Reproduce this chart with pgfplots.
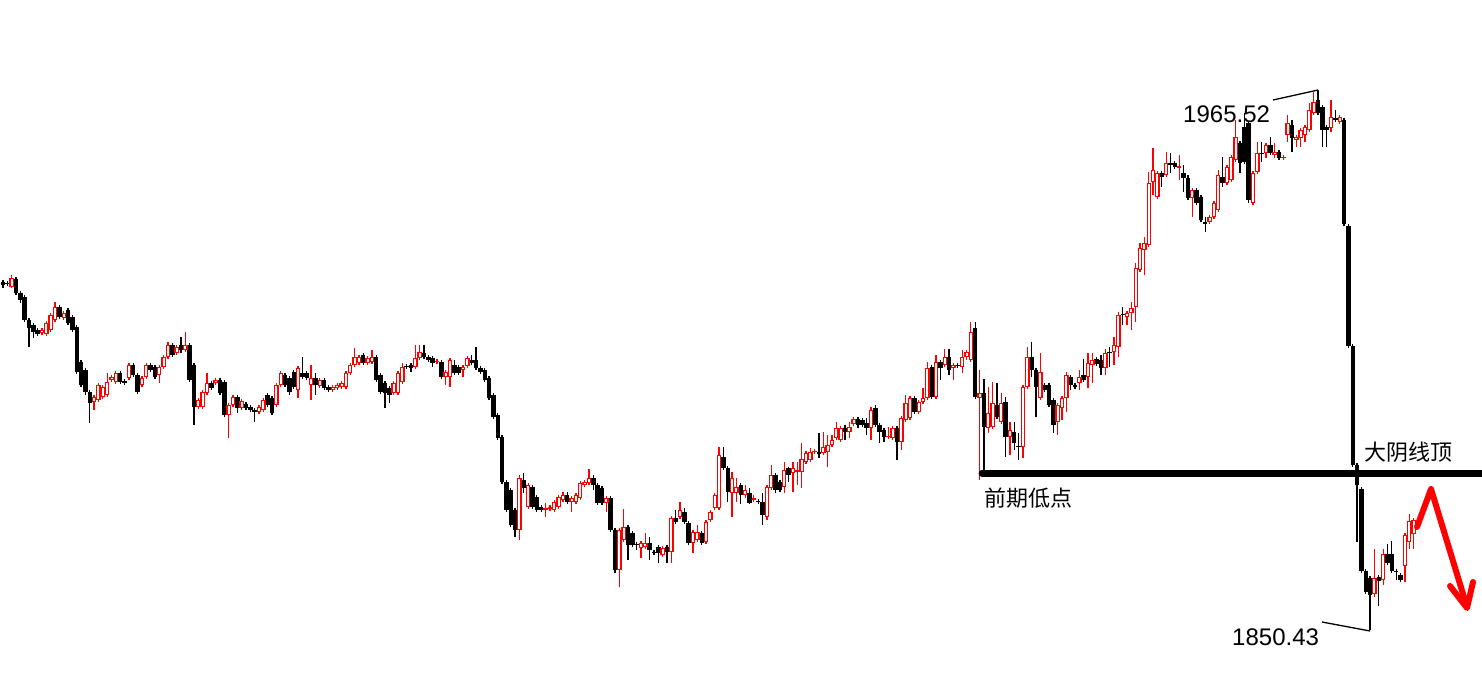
\documentclass[border=0pt]{standalone}
\usepackage{pgfplots}
\usepackage{pgfplotstable}
\usepackage{fontspec}
\pgfplotsset{compat=1.18}
\setmainfont{Liberation Sans}
\newfontfamily\cjk{Noto Sans CJK SC}

% bearish (black, filled) candles: index open high low close
\pgfplotstableread{
x o h l c
0 1924.6 1925.0 1923.3 1924.0
1 1924.4 1924.8 1923.8 1924.2
3 1925.2 1925.7 1921.8 1922.3
4 1922.3 1922.7 1920.1 1920.8
5 1921.4 1921.8 1916.1 1916.5
6 1916.5 1916.9 1910.8 1914.8
7 1915.4 1915.9 1912.7 1914.0
8 1914.4 1914.8 1913.1 1913.5
13 1919.3 1919.7 1916.7 1917.1
15 1918.6 1919.1 1915.4 1915.9
16 1917.1 1917.6 1914.0 1914.4
17 1915.0 1915.4 1905.0 1905.4
18 1907.6 1908.0 1902.2 1902.7
19 1905.9 1906.3 1900.5 1901.2
20 1901.2 1901.6 1894.6 1898.8
27 1905.2 1905.6 1902.9 1903.3
28 1903.5 1903.9 1902.7 1903.1
30 1906.9 1907.3 1904.4 1904.8
31 1904.8 1905.2 1900.7 1901.2
34 1906.9 1907.3 1905.4 1905.9
35 1906.5 1906.9 1903.9 1904.4
39 1911.2 1911.6 1908.6 1909.1
41 1911.2 1912.9 1909.5 1910.1
43 1911.2 1911.6 1903.3 1903.7
44 1906.9 1907.3 1894.1 1898.0
48 1903.1 1903.5 1901.6 1902.0
50 1903.7 1904.1 1900.5 1901.0
51 1903.3 1903.7 1895.8 1896.3
54 1900.1 1900.5 1896.7 1897.8
56 1898.6 1899.0 1897.3 1897.8
57 1898.0 1898.4 1896.9 1897.3
58 1897.3 1897.8 1894.8 1896.9
61 1900.5 1901.0 1898.0 1898.4
62 1899.9 1900.3 1896.3 1896.7
65 1904.8 1905.2 1902.2 1902.7
66 1904.1 1904.6 1900.5 1901.2
67 1905.4 1905.9 1901.8 1902.2
69 1905.2 1908.6 1903.9 1904.4
70 1905.2 1905.6 1903.7 1904.1
72 1904.1 1905.2 1900.5 1902.7
74 1903.7 1904.1 1901.6 1902.0
75 1902.2 1902.7 1901.2 1901.6
83 1909.1 1909.5 1906.9 1907.3
86 1908.6 1909.1 1903.3 1903.7
87 1904.8 1905.2 1900.7 1901.2
88 1903.1 1903.5 1897.8 1901.0
89 1902.0 1902.4 1898.8 1900.5
93 1906.7 1907.1 1906.1 1906.5
94 1906.9 1907.3 1905.4 1906.3
97 1909.5 1911.2 1908.2 1908.6
98 1908.6 1909.1 1907.6 1908.0
99 1908.4 1908.8 1906.5 1907.3
101 1907.6 1908.0 1903.9 1904.4
104 1906.9 1908.0 1904.8 1905.2
105 1906.5 1906.9 1904.8 1905.2
108 1908.0 1909.1 1906.9 1907.3
109 1908.0 1910.8 1905.9 1906.3
110 1906.3 1906.7 1905.0 1905.4
111 1905.9 1906.3 1903.3 1903.7
112 1904.1 1904.6 1899.5 1899.9
113 1900.5 1901.0 1895.4 1895.8
114 1896.3 1896.7 1890.9 1891.4
115 1891.6 1892.0 1881.6 1882.0
116 1882.0 1882.4 1875.6 1876.0
117 1880.3 1880.7 1872.4 1872.8
118 1876.0 1876.4 1870.3 1871.8
120 1882.4 1883.9 1879.6 1880.7
122 1880.9 1881.3 1876.2 1876.7
123 1878.8 1879.2 1875.6 1876.0
124 1876.7 1877.1 1875.6 1876.0
130 1879.2 1879.9 1877.3 1877.7
136 1882.8 1883.5 1880.3 1881.3
137 1881.3 1881.8 1877.1 1877.5
138 1880.7 1881.1 1877.1 1877.5
140 1878.6 1879.0 1871.3 1871.8
141 1871.8 1872.2 1862.6 1863.2
144 1872.4 1872.8 1865.4 1868.6
145 1871.1 1871.5 1868.1 1868.6
146 1868.8 1869.2 1867.5 1868.6
149 1869.0 1870.3 1865.4 1867.5
150 1867.1 1867.5 1866.4 1866.9
151 1868.1 1868.6 1864.7 1866.9
153 1868.1 1868.6 1864.7 1867.1
155 1874.3 1876.0 1873.0 1873.5
157 1875.6 1876.4 1873.0 1873.5
158 1873.3 1873.7 1868.6 1869.0
161 1871.1 1871.5 1868.6 1869.0
166 1887.3 1889.4 1884.5 1885.0
167 1885.0 1885.4 1877.7 1879.9
170 1881.3 1881.8 1877.3 1879.2
172 1879.6 1880.7 1877.3 1877.5
174 1877.9 1878.4 1877.3 1877.7
175 1877.7 1879.6 1872.8 1875.0
178 1883.5 1883.9 1879.6 1880.3
179 1882.0 1882.4 1879.9 1880.3
181 1885.0 1885.2 1882.0 1883.5
188 1888.4 1892.4 1887.1 1888.0
194 1893.5 1894.1 1890.9 1892.6
197 1895.4 1895.8 1893.5 1894.1
198 1895.2 1895.6 1893.7 1894.1
199 1894.6 1895.6 1892.0 1893.5
201 1897.8 1898.4 1893.7 1894.1
202 1894.1 1894.6 1890.3 1892.6
203 1893.1 1893.5 1890.5 1891.6
206 1893.5 1893.9 1886.7 1890.5
210 1899.9 1900.3 1896.5 1896.9
214 1906.5 1906.9 1899.7 1900.1
216 1907.6 1908.0 1903.7 1906.3
218 1908.6 1910.3 1904.8 1905.9
220 1906.9 1907.3 1906.3 1906.7
224 1914.8 1916.1 1899.7 1900.1
226 1901.0 1903.9 1883.1 1893.7
229 1898.4 1903.1 1895.4 1895.8
231 1899.0 1900.1 1887.3 1891.6
233 1892.6 1894.8 1888.8 1890.3
234 1889.6 1892.4 1886.7 1889.4
237 1908.6 1911.8 1904.4 1905.9
238 1905.9 1906.3 1895.8 1902.2
240 1902.7 1903.1 1901.2 1901.6
241 1902.7 1903.1 1898.0 1898.4
242 1899.5 1899.9 1892.4 1894.1
246 1904.4 1904.8 1901.6 1902.7
247 1902.7 1903.1 1901.8 1902.2
249 1904.8 1908.2 1903.3 1903.7
252 1908.2 1908.6 1906.7 1907.1
253 1908.0 1909.1 1904.8 1906.3
255 1909.7 1910.8 1906.5 1909.5
258 1917.8 1919.3 1915.4 1917.6
267 1947.8 1948.3 1944.8 1947.0
269 1950.0 1952.1 1947.8 1949.5
270 1950.0 1950.4 1948.7 1949.1
272 1947.8 1949.5 1943.8 1946.8
273 1946.8 1947.4 1942.1 1942.5
275 1944.2 1944.6 1941.0 1941.4
276 1942.7 1943.1 1937.4 1937.8
277 1937.4 1938.5 1935.3 1937.0
281 1947.0 1951.2 1944.8 1945.7
285 1954.2 1954.7 1947.8 1950.0
286 1957.6 1960.6 1949.8 1950.2
287 1958.5 1958.9 1941.4 1942.1
290 1952.1 1954.4 1950.2 1951.9
292 1953.8 1955.5 1951.7 1952.1
294 1952.3 1952.7 1950.6 1951.0
297 1958.1 1959.1 1952.3 1955.3
303 1963.4 1965.52 1960.2 1960.6
304 1961.9 1962.3 1953.4 1957.0
305 1957.6 1958.1 1953.4 1957.0
307 1959.6 1961.3 1958.7 1959.1
309 1959.1 1959.6 1936.5 1937.0
310 1936.5 1937.0 1910.5 1911.0
311 1911.0 1911.4 1885.2 1885.6
312 1885.6 1886.0 1869.2 1881.3
313 1880.5 1880.9 1862.6 1863.0
314 1863.0 1863.4 1858.1 1858.5
315 1861.5 1862.0 1850.43 1857.9
317 1861.7 1862.2 1855.6 1860.9
319 1866.6 1868.8 1864.3 1864.7
320 1866.6 1869.4 1862.6 1863.0
321 1863.0 1863.4 1861.1 1862.8
322 1862.2 1862.6 1860.7 1861.1
}\bear

% bullish (red, hollow) candles: index open high low close
\pgfplotstableread{
x o h l c
2 1923.5 1926.1 1923.3 1925.5
9 1913.7 1914.8 1913.3 1914.4
10 1913.5 1916.3 1913.1 1915.9
11 1914.4 1918.0 1914.0 1917.6
12 1916.5 1920.3 1916.1 1919.3
14 1916.9 1918.4 1916.5 1918.0
21 1899.0 1900.5 1897.3 1900.1
22 1899.5 1903.1 1899.0 1902.7
23 1900.1 1902.7 1899.7 1902.2
24 1900.5 1905.2 1900.1 1903.3
25 1903.7 1904.8 1903.3 1904.4
26 1903.3 1905.6 1902.9 1905.2
29 1904.1 1907.3 1903.7 1906.9
32 1902.7 1904.6 1902.2 1904.1
33 1904.4 1907.3 1903.9 1906.9
36 1904.8 1906.9 1903.1 1906.5
37 1906.5 1909.1 1906.1 1908.6
38 1908.6 1911.8 1908.2 1911.2
40 1909.5 1911.2 1909.1 1910.8
42 1910.1 1914.0 1909.7 1911.2
45 1898.0 1899.9 1897.5 1899.5
46 1898.0 1901.6 1897.5 1901.2
47 1901.0 1905.2 1900.5 1903.1
49 1903.1 1904.1 1902.7 1903.7
52 1896.3 1898.8 1891.4 1898.4
53 1898.4 1900.5 1898.0 1900.1
55 1897.8 1899.7 1897.3 1899.2
59 1896.9 1898.4 1896.5 1898.0
60 1897.3 1899.9 1896.9 1899.5
63 1898.4 1903.1 1898.0 1902.7
64 1902.7 1905.6 1902.2 1905.2
68 1901.6 1906.7 1899.9 1906.3
71 1902.7 1906.9 1899.5 1904.1
73 1902.4 1904.1 1902.0 1903.7
76 1901.6 1902.7 1901.2 1902.2
77 1902.0 1903.1 1901.6 1902.7
78 1902.2 1903.5 1901.8 1903.1
79 1902.2 1905.6 1901.8 1905.2
80 1905.2 1907.3 1904.8 1906.9
81 1906.9 1910.5 1906.5 1908.6
82 1907.3 1909.1 1906.9 1908.6
84 1907.3 1908.8 1906.9 1908.4
85 1907.6 1910.1 1907.1 1908.6
90 1901.0 1903.5 1900.5 1903.1
91 1901.0 1905.6 1900.5 1905.2
92 1903.3 1907.3 1902.9 1906.5
95 1906.5 1911.2 1906.1 1908.4
96 1908.4 1911.2 1908.0 1909.7
100 1907.6 1908.2 1907.1 1907.8
102 1904.4 1905.9 1902.7 1905.4
103 1904.4 1908.4 1902.2 1908.0
106 1905.9 1906.9 1904.4 1906.5
107 1906.7 1908.8 1906.3 1908.4
119 1871.8 1883.5 1869.6 1882.8
121 1876.7 1881.8 1876.2 1881.3
125 1876.0 1877.5 1874.5 1876.4
126 1876.2 1877.1 1875.8 1876.7
127 1876.0 1878.2 1875.6 1877.7
128 1876.7 1879.2 1876.2 1878.8
129 1878.2 1879.9 1877.7 1879.2
131 1877.7 1879.0 1875.6 1878.6
132 1877.7 1879.6 1877.3 1879.2
133 1878.6 1882.2 1878.2 1881.8
134 1881.3 1882.4 1880.9 1882.0
135 1881.8 1884.8 1881.3 1882.8
139 1877.5 1879.0 1875.6 1878.6
142 1863.2 1872.2 1859.6 1871.8
143 1869.6 1876.2 1869.2 1872.4
147 1867.9 1869.4 1865.8 1869.0
148 1868.1 1871.1 1867.7 1869.0
152 1866.4 1868.3 1866.0 1867.9
154 1867.1 1874.7 1864.7 1874.3
156 1874.5 1877.7 1874.1 1876.0
159 1869.0 1871.8 1866.9 1871.3
160 1869.6 1872.8 1869.2 1871.3
162 1869.2 1873.9 1868.8 1873.5
163 1873.9 1876.0 1873.5 1875.6
164 1876.4 1879.6 1876.0 1879.2
165 1876.4 1889.4 1876.0 1887.7
168 1879.6 1884.1 1874.5 1882.8
169 1879.6 1882.8 1877.7 1880.9
171 1879.2 1881.3 1878.6 1880.3
173 1878.2 1879.2 1877.7 1878.6
176 1874.5 1881.3 1873.9 1880.9
177 1880.7 1885.6 1880.3 1883.5
180 1880.9 1886.2 1879.6 1884.5
182 1883.9 1886.2 1879.9 1885.0
183 1884.1 1886.2 1881.3 1884.5
184 1884.1 1890.3 1880.7 1886.9
185 1886.2 1888.6 1885.8 1888.2
186 1886.7 1889.2 1886.2 1888.4
187 1888.4 1889.0 1888.0 1888.6
189 1888.2 1892.6 1887.7 1889.4
190 1888.4 1892.0 1885.2 1889.9
191 1889.9 1892.0 1889.4 1890.9
192 1891.4 1894.8 1890.9 1893.5
193 1890.9 1893.9 1890.5 1893.5
195 1892.6 1894.8 1891.4 1893.7
196 1894.3 1895.8 1893.9 1895.4
200 1893.5 1898.0 1890.9 1897.3
204 1891.6 1893.7 1891.1 1891.8
205 1891.4 1893.9 1890.9 1893.5
207 1890.5 1896.1 1888.8 1895.6
208 1895.2 1900.5 1894.8 1898.8
209 1895.6 1900.3 1895.2 1899.9
211 1896.9 1899.5 1896.5 1899.0
212 1899.0 1902.0 1898.6 1899.9
213 1899.9 1907.6 1899.5 1906.3
215 1900.1 1909.1 1899.7 1907.6
217 1906.9 1910.3 1906.5 1908.6
219 1906.3 1907.3 1903.7 1906.9
221 1906.5 1910.1 1905.2 1908.6
222 1908.6 1910.1 1908.0 1909.7
223 1908.0 1916.1 1907.6 1914.0
225 1899.9 1905.9 1882.4 1901.0
227 1893.5 1902.2 1892.4 1896.7
228 1893.7 1903.3 1893.3 1898.8
230 1894.8 1901.0 1894.3 1898.8
232 1891.6 1894.8 1887.7 1893.1
235 1889.4 1902.7 1887.1 1902.2
236 1902.2 1910.8 1901.8 1908.6
239 1899.9 1909.5 1899.5 1905.4
243 1894.8 1898.8 1892.0 1898.4
244 1897.8 1900.3 1895.2 1899.9
245 1899.9 1905.4 1896.9 1904.8
248 1903.1 1905.9 1901.6 1904.4
250 1904.4 1909.5 1902.0 1907.3
251 1906.9 1909.5 1903.1 1908.0
254 1906.3 1910.3 1904.8 1909.5
256 1909.7 1912.9 1906.9 1911.2
257 1910.8 1918.2 1908.6 1917.6
259 1917.1 1918.4 1915.4 1918.0
260 1918.0 1920.3 1914.4 1919.1
261 1919.3 1928.7 1916.1 1927.6
262 1927.2 1932.9 1926.7 1931.8
263 1931.4 1934.2 1926.1 1932.9
264 1932.5 1948.0 1932.1 1945.7
265 1945.9 1953.2 1943.1 1948.5
266 1942.7 1948.3 1942.3 1947.8
268 1947.4 1952.3 1947.0 1950.0
271 1948.9 1951.7 1946.3 1949.3
274 1942.5 1944.6 1938.5 1944.2
278 1937.4 1938.9 1937.0 1938.5
279 1938.5 1941.9 1938.1 1941.4
280 1940.0 1948.5 1939.5 1947.4
282 1945.7 1949.5 1945.3 1949.1
283 1946.3 1951.7 1945.9 1951.2
284 1950.6 1959.1 1950.2 1955.5
288 1941.4 1948.3 1941.0 1947.8
289 1948.0 1954.4 1947.6 1952.1
291 1952.1 1954.2 1951.0 1953.8
293 1951.7 1954.2 1951.0 1952.3
295 1951.0 1951.7 1950.6 1951.2
296 1955.9 1960.2 1954.4 1958.5
298 1954.9 1955.9 1953.4 1955.5
299 1955.3 1957.4 1953.4 1957.0
300 1955.9 1958.1 1954.4 1957.6
301 1957.0 1962.8 1956.6 1961.3
302 1960.6 1965.1 1960.2 1963.0
306 1957.4 1963.4 1956.6 1959.8
308 1958.7 1960.2 1958.3 1959.8
316 1858.1 1867.7 1857.5 1861.5
318 1861.1 1867.7 1860.0 1866.6
323 1864.1 1871.1 1860.7 1870.7
324 1869.2 1875.2 1867.7 1873.7
325 1870.9 1874.3 1867.7 1873.9
}\bull

\begin{document}
\begin{tikzpicture}
\begin{axis}[
  at={(0,0)}, anchor=south west,
  scale only axis, width=1482pt, height=681pt,
  xmin=-0.691, xmax=340.78,
  ymin=1839.58, ymax=1984.70,
  hide axis, clip=false,
  error bars/error mark=none,
]
% wicks
\addplot[draw=none, mark=none, error bars/.cd, y dir=plus, y explicit,
  error bar style={draw=black, line width=1.3pt, line cap=butt}]
  table[x=x, y=l, y error expr={\thisrow{h}-\thisrow{l}}] {\bear};
\addplot[draw=none, mark=none, error bars/.cd, y dir=plus, y explicit,
  error bar style={draw=red, line width=1.3pt, line cap=butt}]
  table[x=x, y=l, y error expr={\thisrow{h}-\thisrow{l}}] {\bull};
% bodies
\addplot[draw=none, mark=none, error bars/.cd, y dir=plus, y explicit,
  error bar style={draw=black, line width=4.5pt, line cap=butt}]
  table[x=x, y=c, y error expr={max(\thisrow{o}-\thisrow{c},0.25)}] {\bear};
\addplot[draw=none, mark=none, error bars/.cd, y dir=plus, y explicit,
  error bar style={draw=red, line width=4.5pt, line cap=butt}]
  table[x=x, y=o, y error expr={max(\thisrow{c}-\thisrow{o},0.25)}] {\bull};
\addplot[draw=none, mark=none, error bars/.cd, y dir=plus, y explicit,
  error bar style={draw=white, line width=2pt, line cap=butt}]
  table[x=x, y expr={\thisrow{o}+0.26}, y error expr={max(\thisrow{c}-\thisrow{o}-0.52,0)}] {\bull};
\end{axis}
% annotations, in pixel coordinates of the picture (origin top left)
\begin{scope}[x=1pt, y=-1pt, yshift=681pt]
  \draw[black, line width=7pt, line cap=round] (982,473) -- (1482,473);
  \draw[black, line width=1.3pt] (1273,100) -- (1318,90);
  \draw[black, line width=1.3pt] (1322,622) -- (1370,631);
  \node[anchor=base west, inner sep=0pt, font=\fontsize{24pt}{28pt}\selectfont] at (1183,123) {1965.52};
  \node[anchor=base west, inner sep=0pt, font=\fontsize{24pt}{28pt}\selectfont] at (1232,645) {1850.43};
  \node[anchor=base west, inner sep=0pt, font=\cjk\fontsize{22pt}{26pt}\selectfont] at (984,506.5) {前期低点};
  \node[anchor=base west, inner sep=0pt, font=\cjk\fontsize{22pt}{26pt}\selectfont] at (1364,460.5) {大阴线顶};
  \draw[red, line width=6pt, line cap=round, line join=round] (1417,527) -- (1431,489) -- (1467,607);
  \draw[red, line width=6pt, line cap=round, line join=round] (1450,586) -- (1467,608) -- (1473,582);
\end{scope}
\pgfresetboundingbox
\path (0,0) rectangle (1482pt,681pt);
\end{tikzpicture}
\end{document}
